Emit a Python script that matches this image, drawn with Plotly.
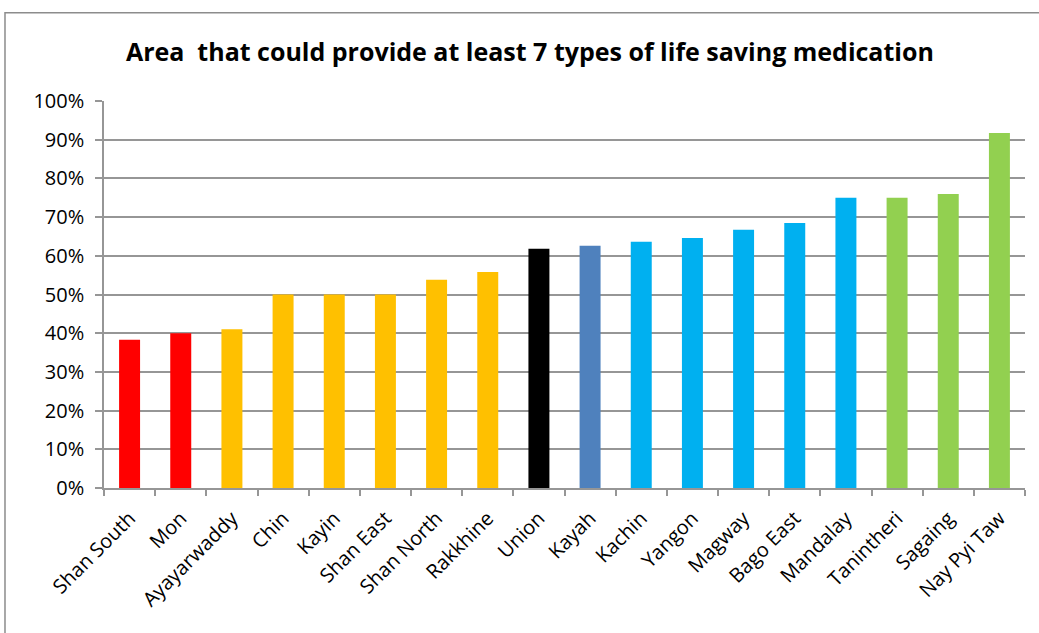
import plotly.graph_objects as go

# Regions, sorted by share of facilities
areas = ["Shan South", "Mon", "Ayayarwaddy", "Chin", "Kayin", "Shan East",
         "Shan North", "Rakkhine", "Union", "Kayah", "Kachin", "Yangon",
         "Magway", "Bago East", "Mandalay", "Tanintheri", "Sagaing", "Nay Pyi Taw"]
share = [0.383, 0.40, 0.41, 0.50, 0.50, 0.50,
         0.538, 0.558, 0.618, 0.626, 0.636, 0.646,
         0.667, 0.685, 0.75, 0.75, 0.76, 0.917]
colors = ["#FF0000", "#FF0000", "#FFC000", "#FFC000", "#FFC000", "#FFC000",
          "#FFC000", "#FFC000", "#000000", "#4F81BD", "#00B0F0", "#00B0F0",
          "#00B0F0", "#00B0F0", "#00B0F0", "#92D050", "#92D050", "#92D050"]

fig = go.Figure(go.Bar(x=areas, y=share, marker=dict(color=colors, line=dict(width=0)),
                       width=0.41))

grid = "#969696"
fig.update_layout(
    width=1039, height=633,
    margin=dict(l=104, r=14, t=101, b=145),
    paper_bgcolor="white", plot_bgcolor="white",
    showlegend=False,
    font=dict(family="Open Sans, sans-serif", size=20, color="#000000"),
    title=dict(text="<b>Area  that could provide at least 7 types of life saving medication</b>",
               x=0.51, xanchor="center", y=0.918, yanchor="middle",
               font=dict(family="Open Sans, sans-serif", size=25, color="#000000")),
    bargap=0.59,
)
fig.update_yaxes(range=[0, 1], dtick=0.1, tickformat=".0%",
                 showgrid=True, gridcolor=grid, gridwidth=1.5,
                 showline=True, linecolor=grid, linewidth=1.5,
                 ticks="outside", ticklen=7, tickcolor=grid, tickwidth=1.5,
                 ticklabelstandoff=7,
                 zeroline=False, tickfont=dict(size=20))
fig.update_xaxes(tickangle=-45, showline=True, linecolor=grid, linewidth=1.5,
                 ticks="outside", ticklen=6, tickcolor=grid, tickwidth=1.5,
                 ticklabelstandoff=9,
                 tickson="boundaries", showgrid=False, tickfont=dict(size=20))

# Chart frame
fig.add_shape(type="rect", xref="paper", yref="paper",
              x0=-0.1075, x1=1.05, y0=-0.5, y1=1.228,
              line=dict(color="#8C8C8C", width=1.5), fillcolor="rgba(0,0,0,0)")

fig.write_html("out.html")
